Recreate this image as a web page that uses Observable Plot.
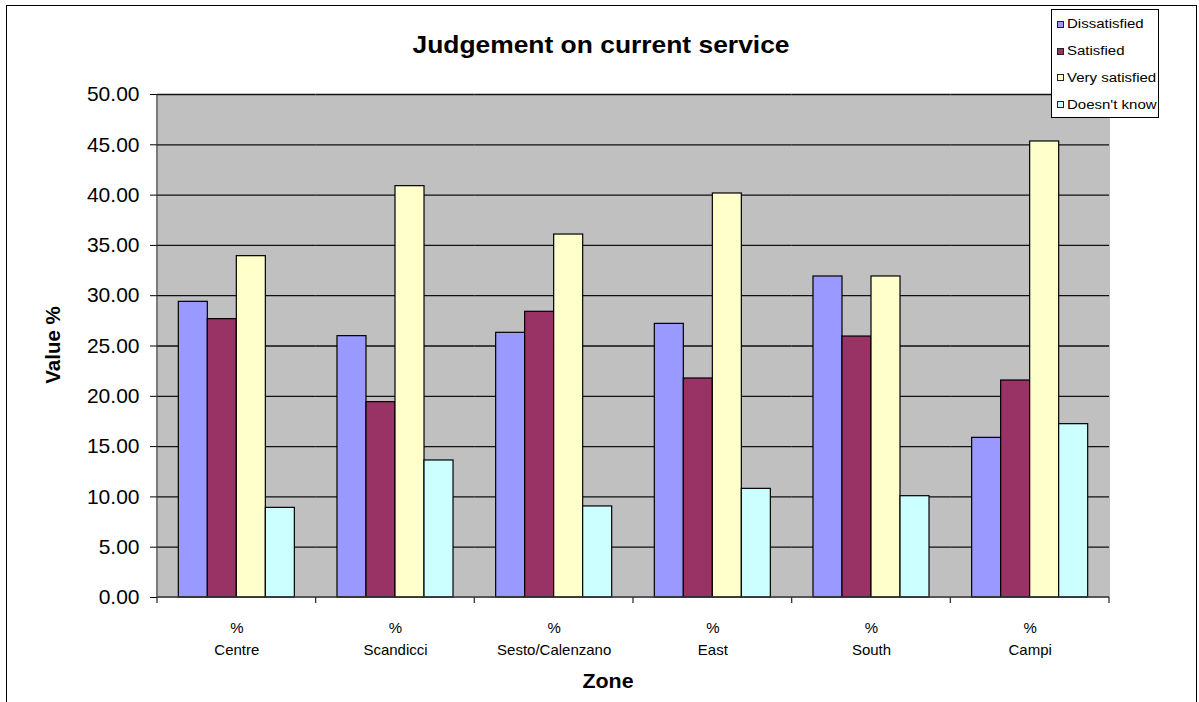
<!DOCTYPE html>
<html>
<head>
<meta charset="utf-8">
<script src="https://cdn.jsdelivr.net/npm/d3@7"></script>
<script src="https://cdn.jsdelivr.net/npm/@observablehq/plot@0.6"></script>
<style>
  body { margin: 0; background: #fff; font-family: Arial, "Liberation Sans", sans-serif; }
  #wrap { position: relative; width: 1199px; height: 702px; overflow: hidden; background: #fff; }
  #chart { position: absolute; left: 0; top: 0; }
  .border { position: absolute; left: 6px; top: 5px; width: 1189px; height: 760px; border: 1.5px solid #000; pointer-events: none; }
  .lbl { position: absolute; white-space: nowrap; line-height: 1; font-weight: bold; color: #000; }
  #title { left: 601px; top: 44.5px; font-size: 24px; transform: translate(-50%, -50%) scaleX(1.1); }
  #xlabel { left: 608px; top: 681px; font-size: 20px; transform: translate(-50%, -50%) scaleX(1.07); }
  #ylabel { left: 53px; top: 345px; font-size: 20.5px; transform: translate(-50%, -50%) rotate(-90deg); }
  #legend { position: absolute; left: 1051px; top: 9px; width: 106px; height: 107px; border: 1px solid #000; background: #fff; }
  .item { position: absolute; left: 5px; height: 14px; display: flex; align-items: center; transform: translateY(-50%); }
  .sw { width: 5px; height: 5px; border: 1px solid #222; margin-right: 3px; flex: none; }
  .txt { font-size: 12px; line-height: 1; transform: scaleX(1.25); transform-origin: left center; white-space: nowrap; }
</style>
</head>
<body>
<div id="wrap">
  <div id="chart"></div>
  <div class="border"></div>
  <div id="title" class="lbl">Judgement on current service</div>
  <div id="ylabel" class="lbl">Value %</div>
  <div id="xlabel" class="lbl">Zone</div>
  <div id="legend"></div>
</div>
<script>
// Survey zones and answer categories
const zones = ["Centre", "Scandicci", "Sesto/Calenzano", "East", "South", "Campi"];
const series = ["Dissatisfied", "Satisfied", "Very satisfied", "Doesn't know"];
const colors = ["#9999ff", "#993366", "#ffffcc", "#ccffff"];

// Percentages per zone, one array per answer
const dissatisfied  = [29.39, 25.98, 26.31, 27.20, 31.91, 15.87];
const satisfied     = [27.67, 19.42, 28.40, 21.77, 25.94, 21.57];
const verySatisfied = [33.93, 40.89, 36.08, 40.16, 31.91, 45.33];
const doesntKnow    = [8.91, 13.62, 9.05, 10.80, 10.07, 17.23];

const yTicks = d3.range(0, 51, 5);

const seriesValues = [dissatisfied, satisfied, verySatisfied, doesntKnow];
const rows = [];
zones.forEach((zone, i) => {
  series.forEach((s, j) => rows.push({zone, series: s, value: seriesValues[j][i]}));
});

const W = 1199, H = 702;
const plot = Plot.plot({
  width: W,
  height: H,
  marginLeft: 157,
  marginRight: 90,
  marginTop: 94,
  marginBottom: 105,
  style: {fontFamily: "Arial, 'Liberation Sans', sans-serif", fontSize: "21px", color: "#000", background: "transparent"},
  fx: {domain: zones, padding: 0, round: false, axis: null},
  x: {domain: series, paddingInner: 0, paddingOuter: 0.735, round: false, axis: null},
  y: {domain: [0, 50], ticks: yTicks, tickFormat: d3.format(".2f"), tickSize: 7, tickPadding: 11, label: null},
  color: {domain: series, range: colors},
  marks: [
    Plot.frame({fill: "#c0c0c0", stroke: "none", shapeRendering: "crispEdges"}),
    Plot.ruleY(yTicks.slice(1), {stroke: "#111", strokeWidth: 1.3}),
    Plot.barY(rows, {fx: "zone", x: "series", y: "value", fill: "series", stroke: "#000", strokeWidth: 1.2}),
    Plot.text(zones, {
      fx: d => d,
      text: d => `%\n${d}`,
      frameAnchor: "bottom",
      lineAnchor: "top",
      dy: 20,
      lineHeight: 1.48,
      fontSize: 15,
      fill: "#000"
    })
  ]
});
document.getElementById("chart").appendChild(plot);

// Axis lines and the category separator ticks, placed from the plot's own scales
const fx = plot.scale("fx");
const ys = plot.scale("y");
const bw = fx.bandwidth;
const x0 = fx.apply(zones[0]);
const x1 = fx.apply(zones[zones.length - 1]) + bw;
const yb = ys.apply(0), yt = ys.apply(50);
const svg = d3.select(plot);
const g = svg.append("g").attr("stroke", "#333").attr("stroke-width", 1.3).attr("fill", "none");
g.append("line").attr("x1", x0).attr("x2", x0).attr("y1", yt).attr("y2", yb);
g.append("line").attr("x1", x0).attr("x2", x1).attr("y1", yb).attr("y2", yb);
const seps = zones.map(z => fx.apply(z)).concat([x1]);
g.selectAll("line.sep").data(seps).join("line").attr("class", "sep")
  .attr("x1", d => d).attr("x2", d => d).attr("y1", yb).attr("y2", yb + 6);

// Legend
const legend = document.getElementById("legend");
const rowCenters = [14, 41, 67.5, 94.5];
series.forEach((s, i) => {
  const item = document.createElement("div");
  item.className = "item";
  item.style.top = rowCenters[i] + "px";
  const sw = document.createElement("span");
  sw.className = "sw";
  sw.style.background = colors[i];
  const t = document.createElement("span");
  t.className = "txt";
  t.textContent = s;
  item.appendChild(sw);
  item.appendChild(t);
  legend.appendChild(item);
});
</script>
</body>
</html>
